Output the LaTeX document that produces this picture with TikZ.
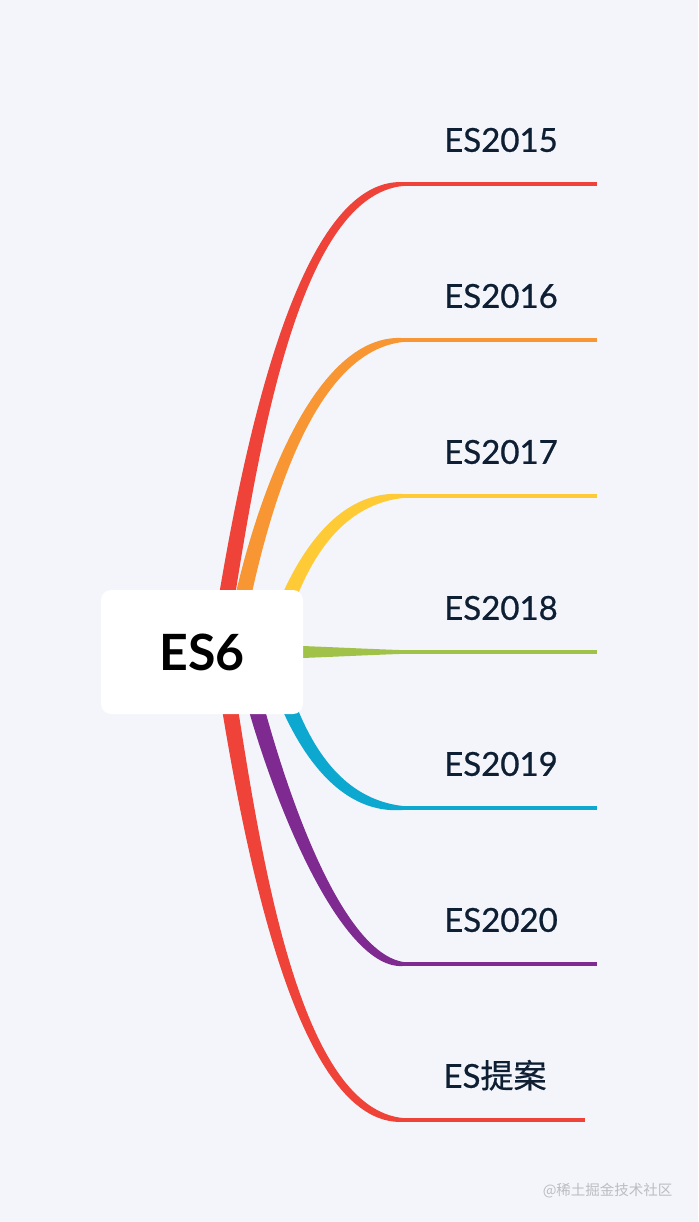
\documentclass[tikz,border=0pt]{standalone}
\usepackage{fontspec}
\setmainfont{Lato}
\newfontfamily\leaffont{Lato}[FakeBold=0.7]
\newfontfamily\cjk{Noto Sans CJK SC}
\newfontfamily\leafcjk{Noto Sans CJK SC}[FakeBold=0.7]
\usetikzlibrary{calc,positioning}
\definecolor{paper}{RGB}{244,245,250}
\definecolor{esred}{RGB}{239,66,56}
\definecolor{esorange}{RGB}{247,150,50}
\definecolor{esyellow}{RGB}{254,203,55}
\definecolor{esgreen}{RGB}{160,194,72}
\definecolor{escyan}{RGB}{12,168,208}
\definecolor{espurple}{RGB}{126,42,144}
\definecolor{ink}{RGB}{14,31,52}
\definecolor{wmgrey}{RGB}{188,188,196}
\tikzset{
	rootbox/.style={fill=white,rounded corners=10pt,minimum width=202pt,
		minimum height=124pt,inner sep=0pt,font=\bfseries\fontsize{50}{60}\selectfont},
	leaf/.style={anchor=south,minimum width=192pt,inner sep=0pt,text depth=32pt,
		text=ink,font=\leaffont\fontsize{33}{40}\selectfont},
	twig/.style={line width=3.5pt,draw=#1}
}
% tapered branch: [half width at 2nd control] colour, shift of start from hub, two controls, leaf end
\newcommand{\mmbranch}[6][10pt]{%
	\coordinate (bs) at ($(hub)+(#3,0)$);
	\coordinate (bc) at (#4);
	\coordinate (bd) at (#5);
	\fill[#2] ($(bs)!8pt!90:(bc)$) .. controls ($(bc)!8.5pt!-90:(bs)$) and ($(bd)!#1!90:(#6)$) .. ($(#6)!1.8pt!-90:(bd)$)
	-- ($(#6)!1.8pt!90:(bd)$) .. controls ($(bd)!#1!-90:(#6)$) and ($(bc)!8.5pt!90:(bs)$) .. ($(bs)!8pt!-90:(bc)$) -- cycle;
}
\begin{document}
\begin{tikzpicture}[x=1pt,y=-1pt]
	\fill[paper] (0,0) rectangle (698,1222);
	\coordinate (hub) at (202,652);
	%
	\node[leaf] (l2015) at (501,184) {ES2015};
	\node[leaf] (l2016) at (501,340) {ES2016};
	\node[leaf] (l2017) at (501,496) {ES2017};
	\node[leaf] (l2018) at (501,652) {ES2018};
	\node[leaf] (l2019) at (501,808) {ES2019};
	\node[leaf] (l2020) at (501,964) {ES2020};
	\node[leaf,minimum width=180pt] (lnext) at (495,1120) {ES{\leafcjk 提案}};
	\draw[twig=esred] (l2015.south west) -- (l2015.south east);
	\draw[twig=esorange] (l2016.south west) -- (l2016.south east);
	\draw[twig=esyellow] (l2017.south west) -- (l2017.south east);
	\draw[twig=esgreen] (l2018.south west) -- (l2018.south east);
	\draw[twig=escyan] (l2019.south west) -- (l2019.south east);
	\draw[twig=espurple] (l2020.south west) -- (l2020.south east);
	\draw[twig=esred] (lnext.south west) -- (lnext.south east);
	%
	\mmbranch{esred}{16}{245,480}{292,184}{l2015.south west}
	\mmbranch{esorange}{30}{255,520}{310,340}{l2016.south west}
	\mmbranch{esyellow}{68}{285,600}{320,496}{l2017.south west}
	\mmbranch[4pt]{esgreen}{0}{270,652}{340,652}{l2018.south west}
	\mmbranch{escyan}{68}{285,704}{320,808}{l2019.south west}
	\mmbranch{espurple}{40}{272,784}{340,964}{l2020.south west}
	\mmbranch{esred}{19}{248,824}{292,1120}{lnext.south west}
	%
	\node[rootbox] (es6) at (hub) {ES6};
	\node[anchor=east,text=wmgrey,font=\cjk\fontsize{14.5}{16}\selectfont] (wm) at (676,1191) {@稀土掘金技术社区};
\end{tikzpicture}
\end{document}
